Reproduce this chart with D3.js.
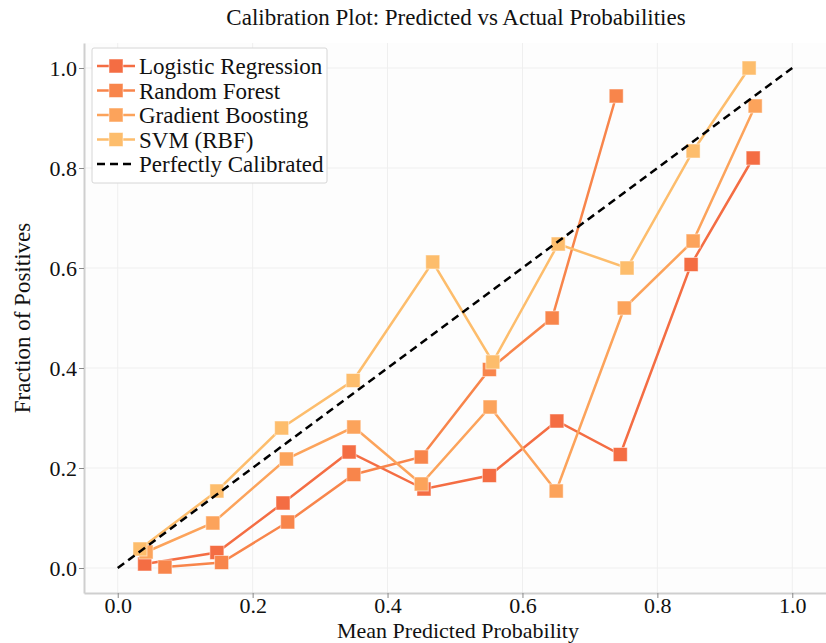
<!DOCTYPE html>
<html>
<head>
<meta charset="utf-8">
<script src="https://cdn.jsdelivr.net/npm/d3@7"></script>
<style>
  body { margin: 0; background: #fff; }
  svg text { font-family: "Liberation Serif", "Times New Roman", serif; fill: #111; }
</style>
</head>
<body>
<script>
// calibration data
let seriesNames = ["Logistic Regression", "Random Forest", "Gradient Boosting", "SVM (RBF)"];
let seriesColors = ["#f46d43", "#f8854b", "#fca35b", "#fdbd6c"];

let lrX = [0.04, 0.147, 0.245, 0.343, 0.454, 0.551, 0.651, 0.745, 0.850, 0.942];
let lrY = [0.008, 0.031, 0.130, 0.232, 0.158, 0.185, 0.294, 0.227, 0.607, 0.820];

let rfX = [0.07, 0.154, 0.252, 0.350, 0.450, 0.551, 0.644, 0.739];
let rfY = [0.002, 0.011, 0.092, 0.187, 0.222, 0.397, 0.500, 0.944];

let gbX = [0.042, 0.141, 0.250, 0.350, 0.450, 0.552, 0.650, 0.751, 0.853, 0.945];
let gbY = [0.032, 0.090, 0.218, 0.282, 0.168, 0.322, 0.154, 0.520, 0.654, 0.924];

let svmX = [0.033, 0.147, 0.243, 0.349, 0.467, 0.556, 0.653, 0.755, 0.853, 0.936];
let svmY = [0.038, 0.154, 0.280, 0.375, 0.612, 0.412, 0.648, 0.600, 0.834, 1.000];

let diagX = [0, 1];
let diagY = [0, 1];

let ticks = [0, 0.2, 0.4, 0.6, 0.8, 1.0];

let seriesXs = [lrX, rfX, gbX, svmX];
let seriesYs = [lrY, rfY, gbY, svmY];

let svgWidth = 826;
let svgHeight = 643;
let margin = {top: 43, bottom: 50, left: 84, right: 0};
let width = svgWidth - margin.left - margin.right;
let height = svgHeight - margin.top - margin.bottom;

let svg = d3.select("body")
            .append("svg")
            .attr("width", svgWidth)
            .attr("height", svgHeight);

let canvas = svg.append("g")
                .attr("transform", "translate(" + margin.left + "," + margin.top + ")");

// scales
let xscale = d3.scaleLinear().domain([-0.05, 1.05]).range([0, width]);
let yscale = d3.scaleLinear().domain([-0.05, 1.05]).range([height, 0]);

// plot background
canvas.append("rect")
      .attr("width", width).attr("height", height)
      .style("fill", "#fdfdfd");

// grid
canvas.append("g")
      .selectAll("line.gx").data(ticks).enter().append("line")
        .attr("x1", d => xscale(d)).attr("x2", d => xscale(d))
        .attr("y1", 0).attr("y2", height)
        .style("stroke", "#efefef").style("stroke-width", 1);
canvas.append("g")
      .selectAll("line.gy").data(ticks).enter().append("line")
        .attr("x1", 0).attr("x2", width)
        .attr("y1", d => yscale(d)).attr("y2", d => yscale(d))
        .style("stroke", "#efefef").style("stroke-width", 1);

// axes
let hAxis = d3.axisBottom(xscale).tickValues(ticks).tickFormat(d3.format(".1f")).tickSize(5).tickSizeOuter(0);
let vAxis = d3.axisLeft(yscale).tickValues(ticks).tickFormat(d3.format(".1f")).tickSize(5).tickSizeOuter(0);

let gx = canvas.append("g")
      .attr("transform", "translate(0," + height + ")")
      .call(hAxis);
let gy = canvas.append("g")
      .call(vAxis);

[gx, gy].forEach(g => {
  g.select(".domain").style("stroke", "#cfcfcf").style("stroke-width", 2);
  g.selectAll(".tick line").style("stroke", "#888");
  g.selectAll(".tick text")
   .style("font-family", "Liberation Serif, Times New Roman, serif")
   .style("font-size", "22px").style("fill", "#111");
});
gx.selectAll(".tick text").attr("dy", null).attr("y", 20);
gy.selectAll(".tick text").attr("x", -7);

// axis titles
svg.append("text")
   .attr("x", 458).attr("y", 638)
   .style("text-anchor", "middle").style("font-size", "22px")
   .text("Mean Predicted Probability");
svg.append("text")
   .attr("transform", "translate(30,318) rotate(-90)")
   .style("text-anchor", "middle").style("font-size", "23px")
   .text("Fraction of Positives");

// title
svg.append("text")
   .attr("x", 456).attr("y", 25)
   .style("text-anchor", "middle").style("font-size", "23px")
   .text("Calibration Plot: Predicted vs Actual Probabilities");

// series lines and markers
let line = d3.line().x(d => xscale(d[0])).y(d => yscale(d[1]));
let msize = 14;

seriesNames.forEach((name, i) => {
  let pts = seriesXs[i].map((x, j) => [x, seriesYs[i][j]]);
  let g = canvas.append("g");
  g.append("path")
   .datum(pts)
   .attr("d", line)
   .style("fill", "none")
   .style("stroke", seriesColors[i])
   .style("stroke-width", 2.5);
  g.selectAll("rect").data(pts).enter().append("rect")
   .attr("x", d => xscale(d[0]) - msize / 2)
   .attr("y", d => yscale(d[1]) - msize / 2)
   .attr("width", msize).attr("height", msize)
   .style("fill", seriesColors[i])
   .style("stroke", "rgba(255,255,255,0.5)")
   .style("stroke-width", 1);
});

// perfectly calibrated diagonal
canvas.append("path")
      .datum(diagX.map((x, j) => [x, diagY[j]]))
      .attr("d", line)
      .style("fill", "none")
      .style("stroke", "#000")
      .style("stroke-width", 2.5)
      .style("stroke-dasharray", "8,5");

// legend
let legend = svg.append("g").attr("transform", "translate(92,48)");
legend.append("rect")
      .attr("width", 235).attr("height", 135)
      .attr("rx", 2)
      .style("fill", "#fff")
      .style("stroke", "#d6d6d6").style("stroke-width", 1);

let legendNames = seriesNames.concat(["Perfectly Calibrated"]);
legendNames.forEach((name, i) => {
  let y = 18 + i * 24.5;
  let row = legend.append("g").attr("transform", "translate(0," + y + ")");
  if (i < seriesNames.length) {
    row.append("line")
       .attr("x1", 5).attr("x2", 43).attr("y1", 0).attr("y2", 0)
       .style("stroke", seriesColors[i]).style("stroke-width", 2.5);
    row.append("rect")
       .attr("x", 24 - msize / 2).attr("y", -msize / 2)
       .attr("width", msize).attr("height", msize)
       .style("fill", seriesColors[i])
       .style("stroke", "rgba(255,255,255,0.5)").style("stroke-width", 1);
  } else {
    row.append("line")
       .attr("x1", 5).attr("x2", 43).attr("y1", 0).attr("y2", 0)
       .style("stroke", "#000").style("stroke-width", 2.5)
       .style("stroke-dasharray", "8,5");
  }
  row.append("text")
     .attr("x", 47).attr("y", 0).attr("dy", "0.35em")
     .style("font-size", "23px")
     .text(name);
});
</script>
</body>
</html>
